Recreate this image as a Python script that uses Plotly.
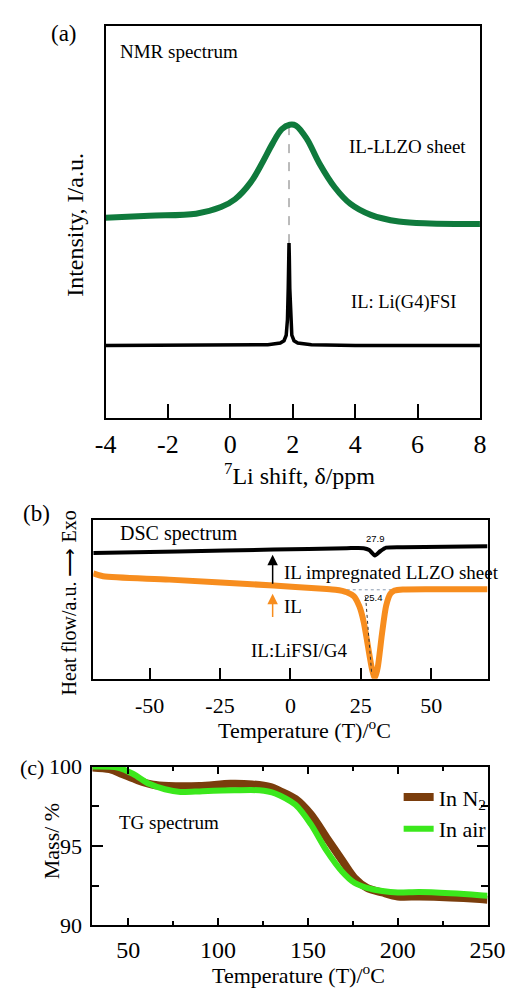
import plotly.graph_objects as go

# ---------------- Panel (a): 7Li NMR spectra (normalised intensity) ----------------
nmr_sheet_x = [-4, -2.6, -1.1, -0.3, 0.15, 0.65, 1.05, 1.35, 1.65, 1.9, 2.1, 2.45, 2.85, 3.35, 3.85, 4.5, 5.4, 6.4, 8]
nmr_sheet_y = [0.510, 0.515, 0.520, 0.537, 0.557, 0.600, 0.654, 0.699, 0.736, 0.747, 0.745, 0.711, 0.649, 0.587, 0.545, 0.517, 0.500, 0.495, 0.494]

nmr_il_x = [-4, 0, 1.2, 1.6, 1.72, 1.79, 1.83, 1.855, 1.87, 1.88, 1.89, 1.905, 1.93, 1.97, 2.04, 2.16, 2.6, 4, 8]
nmr_il_y = [0.184, 0.184, 0.186, 0.19, 0.196, 0.21, 0.25, 0.33, 0.41, 0.445, 0.41, 0.33, 0.25, 0.21, 0.196, 0.19, 0.186, 0.184, 0.184]

nmr_peak_x = [1.88, 1.88]
nmr_peak_y = [0.445, 0.745]

nmr_tickvals = [-4, -2, 0, 2, 4, 6, 8]
nmr_ticktext = ["-4", "-2", "0", "2", "4", "6", "8"]

# ---------------- Panel (b): DSC ----------------
dsc_sheet_T = [-70, -40, -6, 20, 26, 28, 30, 32, 34, 40, 55, 70]
dsc_sheet_y = [0.791, 0.801, 0.813, 0.822, 0.822, 0.810, 0.776, 0.804, 0.825, 0.828, 0.831, 0.834]

dsc_il_T = [-70, -66.5, -43, -6, 11.6, 16, 20, 22.5, 24.5, 26, 27.5, 29, 30, 31, 32.5, 34, 35.5, 37, 40, 50, 70]
dsc_il_y = [0.663, 0.645, 0.624, 0.587, 0.566, 0.560, 0.545, 0.520, 0.455, 0.36, 0.21, 0.06, 0.005, 0.07, 0.28, 0.46, 0.535, 0.555, 0.562, 0.564, 0.564]

dsc_base_T = [11.5, 36]
dsc_base_y = [0.560, 0.560]
dsc_onset_T = [26.7, 28.9]
dsc_onset_y = [0.515, 0.025]

dsc_tickvals = [-50, -25, 0, 25, 50]
dsc_ticktext = ["-50", "-25", "0", "25", "50"]

# ---------------- Panel (c): TG ----------------
tg_n2_T = [30, 39.7, 46.6, 55.2, 63.8, 72.4, 89.7, 106.9, 119, 129.3, 134.5, 143.1, 151.7, 160.3, 169, 175.9, 182.8, 191.4, 200, 212, 229.3, 245.7, 250]
tg_n2_mass = [99.94, 99.83, 99.53, 99.14, 98.85, 98.77, 98.77, 98.91, 98.87, 98.7, 98.45, 97.95, 96.97, 95.54, 94.1, 92.99, 92.37, 92.07, 91.82, 91.82, 91.76, 91.66, 91.62]

tg_air_T = [30, 44, 52.8, 61.6, 70.4, 79.1, 91.4, 109, 123, 131.8, 143.1, 151.7, 160.3, 169, 175.9, 182.8, 191.4, 200, 212, 229.3, 245.7, 250]
tg_air_mass = [100.0, 99.94, 99.53, 98.91, 98.57, 98.4, 98.45, 98.5, 98.5, 98.3, 97.59, 96.36, 94.72, 93.39, 92.68, 92.37, 92.17, 92.07, 92.1, 92.02, 91.9, 91.86]

W, H = 532, 993
SERIF = "Liberation Serif"
SANS = "Liberation Sans"


def px(v):
    return v / W


def py(v):
    return 1 - v / H


fig = go.Figure()

# (a)
fig.add_trace(go.Scatter(x=nmr_peak_x, y=nmr_peak_y, mode="lines", xaxis="x", yaxis="y",
                         line=dict(color="#777777", width=1, dash="dash"), showlegend=False))
fig.add_trace(go.Scatter(x=nmr_sheet_x, y=nmr_sheet_y, mode="lines", xaxis="x", yaxis="y",
                         line=dict(color="#0f7a3c", width=6, shape="spline", smoothing=1.0),
                         showlegend=False, name="IL-LLZO sheet"))
fig.add_trace(go.Scatter(x=nmr_il_x, y=nmr_il_y, mode="lines", xaxis="x", yaxis="y",
                         line=dict(color="black", width=3.5), showlegend=False, name="IL: Li(G4)FSI"))

# (b)
fig.add_trace(go.Scatter(x=dsc_base_T, y=dsc_base_y, mode="lines", xaxis="x2", yaxis="y2",
                         line=dict(color="#8a9bb0", width=1, dash="dot"), showlegend=False))
fig.add_trace(go.Scatter(x=dsc_sheet_T, y=dsc_sheet_y, mode="lines", xaxis="x2", yaxis="y2",
                         line=dict(color="black", width=4, shape="spline", smoothing=0.6),
                         showlegend=False, name="IL impregnated LLZO sheet"))
fig.add_trace(go.Scatter(x=dsc_il_T, y=dsc_il_y, mode="lines", xaxis="x2", yaxis="y2",
                         line=dict(color="#f78d1e", width=6, shape="spline", smoothing=0.7),
                         showlegend=False, name="IL"))
fig.add_trace(go.Scatter(x=dsc_onset_T, y=dsc_onset_y, mode="lines", xaxis="x2", yaxis="y2",
                         line=dict(color="#333333", width=1, dash="dot"), showlegend=False))

# (c)
fig.add_trace(go.Scatter(x=tg_n2_T, y=tg_n2_mass, mode="lines", xaxis="x3", yaxis="y3",
                         line=dict(color="#7a3d0c", width=8, shape="spline", smoothing=0.8),
                         name="In N<sub>2</sub>"))
fig.add_trace(go.Scatter(x=tg_air_T, y=tg_air_mass, mode="lines", xaxis="x3", yaxis="y3",
                         line=dict(color="#3be81c", width=6, shape="spline", smoothing=0.8),
                         name="In air"))

axis_common = dict(showline=True, linecolor="black", linewidth=1.8, showgrid=False, zeroline=False,
                   tickcolor="black", tickwidth=1.5)

fig.update_layout(
    width=W, height=H,
    margin=dict(l=0, r=0, t=0, b=0),
    paper_bgcolor="white", plot_bgcolor="white",
    font=dict(family=SERIF, color="black"),
    xaxis=dict(domain=[px(100), px(496)], anchor="y", range=[-4, 8], tickmode="array",
               tickvals=nmr_tickvals, ticktext=nmr_ticktext, ticks="inside", ticklen=14,
               mirror=True, tickfont=dict(size=26, family=SERIF), ticklabelstandoff=2,
               **axis_common),
    yaxis=dict(domain=[py(416), py(14)], anchor="x", range=[0, 1], showticklabels=False,
               ticks="", mirror=True, **axis_common),
    xaxis2=dict(domain=[px(87), px(504)], anchor="y2", range=[-70, 70], tickmode="array",
                tickvals=dsc_tickvals, ticktext=dsc_ticktext, ticks="inside", ticklen=11,
                mirror=True, tickfont=dict(size=22, family=SERIF), ticklabelstandoff=6,
                **axis_common),
    yaxis2=dict(domain=[py(684), py(521)], anchor="x2", range=[0, 1], showticklabels=False,
                ticks="", mirror=True, **axis_common),
    xaxis3=dict(domain=[px(86), px(504)], anchor="y3", range=[30, 250], tick0=0, dtick=50,
                ticks="inside", ticklen=8, mirror="ticks",
                minor=dict(tick0=0, dtick=25, ticks="inside", ticklen=5, tickcolor="black", tickwidth=1.5),
                tickfont=dict(size=24, family=SERIF), ticklabelstandoff=2, **axis_common),
    yaxis3=dict(domain=[py(937), py(774)], anchor="x3", range=[90, 100], tick0=90, dtick=5,
                ticks="inside", ticklen=11, mirror="ticks",
                minor=dict(tick0=90, dtick=2.5, ticks="inside", ticklen=7, tickcolor="black", tickwidth=1.5),
                tickfont=dict(size=22, family=SERIF), ticklabelstandoff=4, **axis_common),
    showlegend=True,
    legend=dict(x=px(410), y=py(784), xanchor="left", yanchor="top", bgcolor="rgba(0,0,0,0)",
                font=dict(size=22, family=SERIF), tracegroupgap=0, itemsizing="trace"),
)

ann = []
# panel labels
ann.append(dict(text="(a)", x=px(56), y=py(22), xref="paper", yref="paper", showarrow=False,
                font=dict(size=23), xanchor="center", yanchor="middle"))
ann.append(dict(text="(b)", x=px(27), y=py(514), xref="paper", yref="paper", showarrow=False,
                font=dict(size=23), xanchor="center", yanchor="middle"))
ann.append(dict(text="(c)", x=px(22), y=py(775), xref="paper", yref="paper", showarrow=False,
                font=dict(size=22), xanchor="center", yanchor="middle"))

# axis titles
ann.append(dict(text="<sup>7</sup>Li shift, δ/ppm", x=px(305), y=py(474), xref="paper", yref="paper",
                showarrow=False, font=dict(size=24), xanchor="center", yanchor="middle"))
ann.append(dict(text="Intensity, I/a.u.", x=px(67), y=py(218), xref="paper", yref="paper",
                showarrow=False, font=dict(size=24), textangle=-90, xanchor="center", yanchor="middle"))
ann.append(dict(text="Temperature (T)/<sup>o</sup>C", x=px(310), y=py(736), xref="paper", yref="paper",
                showarrow=False, font=dict(size=22), xanchor="center", yanchor="middle"))
ann.append(dict(text="Heat flow/a.u. ⟶ Exo", x=px(61), y=py(606), xref="paper", yref="paper",
                showarrow=False, font=dict(size=20), textangle=-90, xanchor="center", yanchor="middle"))
ann.append(dict(text="Temperature (T)/<sup>o</sup>C", x=px(304), y=py(987), xref="paper", yref="paper",
                showarrow=False, font=dict(size=22), xanchor="center", yanchor="middle"))
ann.append(dict(text="Mass/ %", x=px(43), y=py(851), xref="paper", yref="paper",
                showarrow=False, font=dict(size=22), textangle=-90, xanchor="center", yanchor="middle"))

# (a) texts
ann.append(dict(text="NMR spectrum", x=-3.6, y=0.935, xref="x", yref="y", showarrow=False,
                font=dict(size=19), xanchor="left", yanchor="middle"))
ann.append(dict(text="IL-LLZO sheet", x=3.73, y=0.692, xref="x", yref="y", showarrow=False,
                font=dict(size=19), xanchor="left", yanchor="middle"))
ann.append(dict(text="IL: Li(G4)FSI", x=3.79, y=0.294, xref="x", yref="y", showarrow=False,
                font=dict(size=18.5), xanchor="left", yanchor="middle"))

# (b) texts
ann.append(dict(text="DSC spectrum", x=-61.3, y=0.914, xref="x2", yref="y2", showarrow=False,
                font=dict(size=20), xanchor="left", yanchor="middle"))
ann.append(dict(text="27.9", x=30.3, y=0.88, xref="x2", yref="y2", showarrow=False,
                font=dict(size=9.5, family=SANS), xanchor="center", yanchor="middle"))
ann.append(dict(text="25.4", x=29.6, y=0.51, xref="x2", yref="y2", showarrow=False,
                font=dict(size=9.5, family=SANS), xanchor="center", yanchor="middle"))
ann.append(dict(text="IL impregnated LLZO sheet", x=-2.9, y=0.669, xref="x2", yref="y2", showarrow=False,
                font=dict(size=19), xanchor="left", yanchor="middle"))
ann.append(dict(text="IL", x=-2.9, y=0.454, xref="x2", yref="y2", showarrow=False,
                font=dict(size=19), xanchor="left", yanchor="middle"))
ann.append(dict(text="IL:LiFSI/G4", x=3.3, y=0.178, xref="x2", yref="y2", showarrow=False,
                font=dict(size=19), xanchor="center", yanchor="middle"))
# arrows
ann.append(dict(text="", x=-6.3, y=0.78, ax=-6.3, ay=0.589, xref="x2", yref="y2", axref="x2", ayref="y2",
                showarrow=True, arrowhead=2, arrowsize=1.4, arrowwidth=1.5, arrowcolor="black"))
ann.append(dict(text="", x=-6.3, y=0.535, ax=-6.3, ay=0.38, xref="x2", yref="y2", axref="x2", ayref="y2",
                showarrow=True, arrowhead=2, arrowsize=1.4, arrowwidth=1.5, arrowcolor="#f78d1e"))

# (c) text
ann.append(dict(text="TG spectrum", x=44, y=96.46, xref="x3", yref="y3", showarrow=False,
                font=dict(size=19), xanchor="left", yanchor="middle"))

fig.update_layout(annotations=ann)

fig.write_html("out.html")
